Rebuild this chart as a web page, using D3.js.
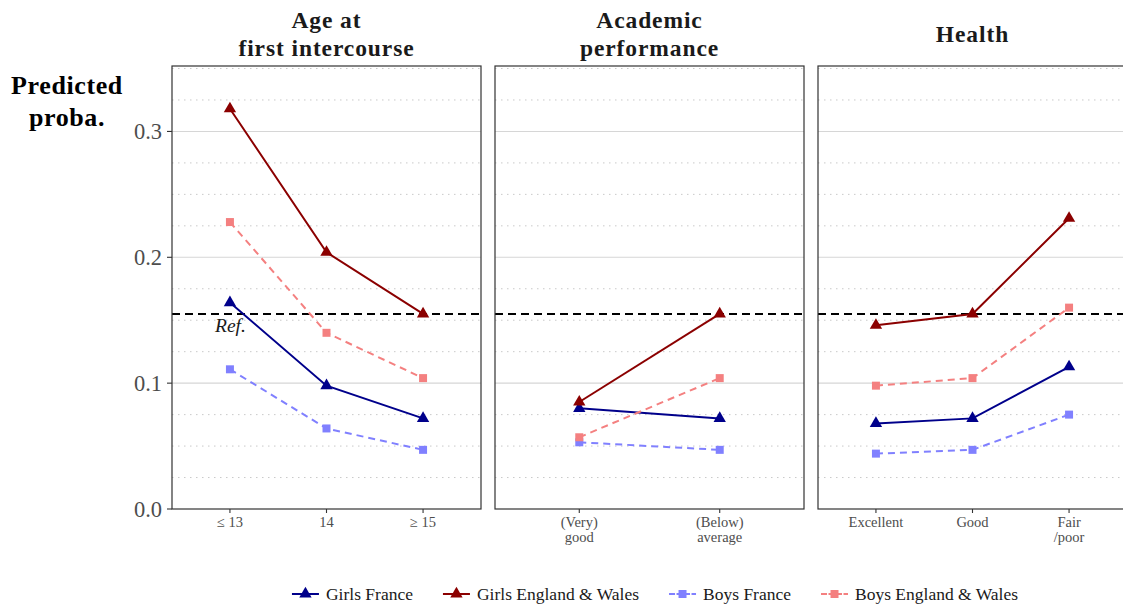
<!DOCTYPE html>
<html>
<head>
<meta charset="utf-8">
<script src="https://cdn.jsdelivr.net/npm/d3@7"></script>
<style>
  body { margin: 0; background: #fff; }
  svg { display: block; font-family: "Liberation Serif", "DejaVu Serif", serif; }
</style>
</head>
<body>
<svg id="chart" width="1123" height="605"></svg>
<script>
// ---- data ----
const panelTitles = [["Age at", "first intercourse"], ["Academic", "performance"], ["Health"]];
const categories = ["≤ 13", "14", "≥ 15", "(Very)\ngood", "(Below)\naverage", "Excellent", "Good", "Fair\n/poor"];
const categoryPanel = [0, 0, 0, 1, 1, 2, 2, 2];

const girlsFrance = [0.164, 0.098, 0.072, 0.080, 0.072, 0.068, 0.072, 0.113];
const girlsEW     = [0.318, 0.204, 0.155, 0.085, 0.155, 0.146, 0.155, 0.231];
const boysFrance  = [0.111, 0.064, 0.047, 0.053, 0.047, 0.044, 0.047, 0.075];
const boysEW      = [0.228, 0.140, 0.104, 0.057, 0.104, 0.098, 0.104, 0.160];

const seriesNames = ["Girls France", "Girls England & Wales", "Boys France", "Boys England & Wales"];
const refValue = 0.155;
const yTicks = [0, 0.1, 0.2, 0.3];
const yDomain = [0, 0.352];

// ---- styling ----
const seriesStyle = [
  { values: girlsFrance, color: "#00008B", dash: null,  shape: d3.symbolTriangle },
  { values: girlsEW,     color: "#8B0000", dash: null,  shape: d3.symbolTriangle },
  { values: boysFrance,  color: "#8080FF", dash: "7,5", shape: d3.symbolSquare },
  { values: boysEW,      color: "#F48080", dash: "7,5", shape: d3.symbolSquare }
];

const svg = d3.select("#chart");
const panelLeft = [172, 495, 818];
const panelWidth = 309;
const plotTop = 66, plotBottom = 509;

const y = d3.scaleLinear().domain(yDomain).range([plotBottom, plotTop]);
const minorGrid = d3.range(0.025, yDomain[1], 0.025).filter(v => Math.abs(v * 10 - Math.round(v * 10)) > 1e-6);

const panels = panelTitles.map((title, p) => {
  const cats = categories.filter((c, i) => categoryPanel[i] === p);
  const x = d3.scalePoint().domain(cats).range([panelLeft[p], panelLeft[p] + panelWidth]).padding(0.6);
  return { title, cats, x, left: panelLeft[p] };
});

panels.forEach((pn, p) => {
  const g = svg.append("g");
  const clipId = "clip" + p;
  svg.append("clipPath").attr("id", clipId)
    .append("rect").attr("x", pn.left).attr("y", plotTop).attr("width", panelWidth).attr("height", plotBottom - plotTop);

  // grid
  g.selectAll(".minor").data(minorGrid).join("line")
    .attr("x1", pn.left).attr("x2", pn.left + panelWidth)
    .attr("y1", d => y(d)).attr("y2", d => y(d))
    .attr("stroke", "#c9c9c9").attr("stroke-width", 1).attr("stroke-dasharray", "1.5,4.5");
  g.selectAll(".major").data(yTicks.filter(d => d > 0)).join("line")
    .attr("x1", pn.left).attr("x2", pn.left + panelWidth)
    .attr("y1", d => y(d)).attr("y2", d => y(d))
    .attr("stroke", "#d6d6d6").attr("stroke-width", 1.1);

  // reference line
  g.append("line")
    .attr("x1", pn.left).attr("x2", pn.left + panelWidth)
    .attr("y1", y(refValue)).attr("y2", y(refValue))
    .attr("stroke", "#000").attr("stroke-width", 2).attr("stroke-dasharray", "8,5");

  // series
  const marks = g.append("g").attr("clip-path", `url(#${clipId})`);
  seriesStyle.forEach(s => {
    const pts = categories.map((c, i) => ({ c, v: s.values[i], p: categoryPanel[i] })).filter(d => d.p === p);
    const line = d3.line().x(d => pn.x(d.c)).y(d => y(d.v));
    marks.append("path").datum(pts).attr("d", line)
      .attr("fill", "none").attr("stroke", s.color).attr("stroke-width", 2)
      .attr("stroke-dasharray", s.dash);
    marks.selectAll(null).data(pts).join("path")
      .attr("transform", d => `translate(${pn.x(d.c)},${y(d.v)})`)
      .attr("d", d3.symbol().type(s.shape).size(s.shape === d3.symbolTriangle ? 66 : 64))
      .attr("fill", s.color);
  });

  // border
  g.append("rect").attr("x", pn.left).attr("y", plotTop).attr("width", panelWidth).attr("height", plotBottom - plotTop)
    .attr("fill", "none").attr("stroke", "#333").attr("stroke-width", 1.2);

  // x axis
  const xa = g.append("g").attr("transform", `translate(0,${plotBottom})`);
  xa.selectAll("line").data(pn.cats).join("line")
    .attr("x1", d => pn.x(d)).attr("x2", d => pn.x(d)).attr("y1", 0).attr("y2", 4)
    .attr("stroke", "#333").attr("stroke-width", 1.1);
  xa.selectAll("text").data(pn.cats).join("text")
    .attr("x", d => pn.x(d)).attr("y", 18)
    .attr("text-anchor", "middle").attr("fill", "#4d4d4d").attr("font-size", 14.5)
    .each(function (d) {
      d.split("\n").forEach((t, i) => {
        d3.select(this).append("tspan").attr("x", pn.x(d)).attr("dy", i === 0 ? 0 : 14.5).text(t);
      });
    });

  // panel title, one text element per line
  const cx = pn.left + panelWidth / 2;
  const base = pn.title.length === 2 ? 28 : 42;
  pn.title.forEach((t, i) => {
    svg.append("text").attr("text-anchor", "middle").attr("font-weight", "bold")
      .attr("font-size", 23.5).attr("letter-spacing", 0.9).attr("fill", "#1a1a1a")
      .attr("x", cx).attr("y", base + i * 27.5).text(t);
  });
});

// y axis (left panel only)
const ya = svg.append("g");
ya.selectAll("line").data(yTicks).join("line")
  .attr("x1", panelLeft[0] - 5).attr("x2", panelLeft[0])
  .attr("y1", d => y(d)).attr("y2", d => y(d))
  .attr("stroke", "#333").attr("stroke-width", 1.1);
ya.selectAll("text").data(yTicks).join("text")
  .attr("x", panelLeft[0] - 10).attr("y", d => y(d)).attr("dy", "0.35em")
  .attr("text-anchor", "end").attr("fill", "#4d4d4d").attr("font-size", 22.5)
  .text(d3.format(".1f"));

// y title
[["Predicted", 94], ["proba.", 126]].forEach(([t, yy]) => {
  svg.append("text").attr("text-anchor", "middle").attr("font-weight", "bold")
    .attr("font-size", 26).attr("letter-spacing", 0.6).attr("fill", "#000")
    .attr("x", 67).attr("y", yy).text(t);
});

// reference label
svg.append("text").attr("x", 215).attr("y", y(refValue) + 18)
  .attr("font-style", "italic").attr("font-size", 19.5).attr("fill", "#1a1a1a").text("Ref.");

// legend
const legend = svg.append("g");
const keyW = 27, keyGap = 7, itemGap = 30, legendY = 594;
let cursor = 0;
seriesNames.forEach((name, i) => {
  const it = legend.append("g");
  const s = seriesStyle[i];
  it.append("line").attr("x1", 0).attr("x2", keyW).attr("y1", 0).attr("y2", 0)
    .attr("stroke", s.color).attr("stroke-width", 2).attr("stroke-dasharray", s.dash ? "6,1.5" : null);
  it.append("path").attr("transform", `translate(${keyW / 2},0)`)
    .attr("d", d3.symbol().type(s.shape).size(s.shape === d3.symbolTriangle ? 66 : 64)).attr("fill", s.color);
  const t = it.append("text").attr("x", keyW + keyGap).attr("y", 0).attr("dy", "0.33em")
    .attr("font-size", 17.5).attr("fill", "#1a1a1a").text(name);
  const w = keyW + keyGap + t.node().getComputedTextLength();
  it.attr("transform", `translate(${cursor},${legendY})`);
  cursor += w + itemGap;
});
const totalW = cursor - itemGap;
legend.attr("transform", `translate(${655 - totalW / 2},0)`);
</script>
</body>
</html>
